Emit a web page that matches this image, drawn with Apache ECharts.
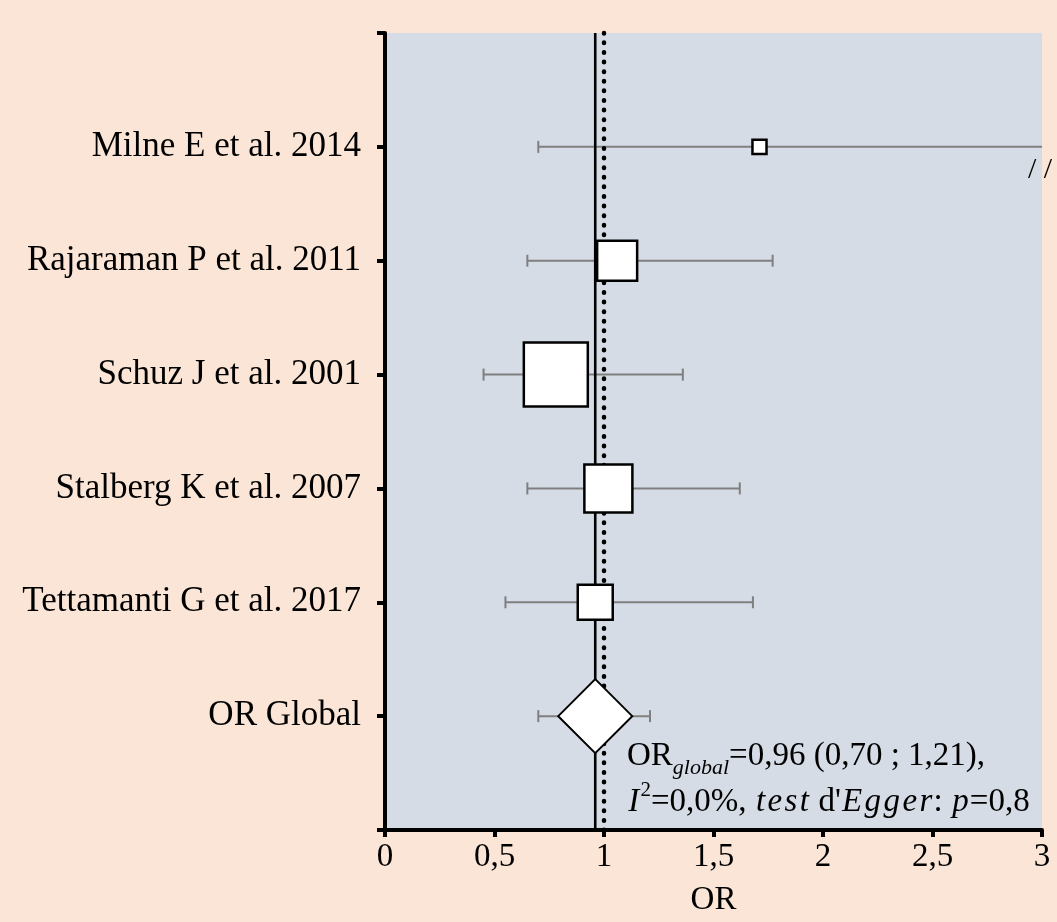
<!DOCTYPE html>
<html>
<head>
<meta charset="utf-8">
<script src="https://cdn.jsdelivr.net/npm/echarts@6/dist/echarts.min.js"></script>
<style>
  html, body { margin: 0; padding: 0; background: #FBE5D6; }
  #chart { width: 1057px; height: 922px; }
</style>
</head>
<body>
<div id="chart"></div>
<script>
// Individual studies, top to bottom
const studies = ['Milne E et al. 2014', 'Rajaraman P et al. 2011', 'Schuz J et al. 2001', 'Stalberg K et al. 2007', 'Tettamanti G et al. 2017'];
const studyOR = [1.71, 1.06, 0.78, 1.02, 0.96];
const studyLower = [0.70, 0.65, 0.45, 0.65, 0.55];
const studyUpper = [4.20, 1.77, 1.36, 1.62, 1.68];
const studyWeight = [2.1, 17.0, 43.5, 24.5, 13.0]; // % weight in the pooled estimate

// Pooled estimate
const pooledLabel = 'OR Global';
const pooledOR = 0.96;
const pooledLower = 0.70;
const pooledUpper = 1.21;
const heterogeneityI2 = 0.0;
const eggerP = 0.8;

// Axis
const xMin = 0, xMax = 3, xStep = 0.5;
const nullValue = 1;

const FONT = "'Liberation Serif', 'Times New Roman', serif";
const comma = (v, d) => v.toFixed(d).replace('.', ',');
// math-style italic: one rich token per letter so the letters get a little extra spacing
const mathItalic = s => s.split('').map(ch => '{m|' + ch + '}').join('');

// Row positions: pooled row at 1, studies above it, empty slots at 0 and top
const nRows = studies.length + 2;
const rowLabels = ['', pooledLabel].concat(studies.slice().reverse()).concat(['']);
const studyRow = studies.map((s, i) => studies.length + 1 - i);
const pooledRow = 1;

const ciData = studies.map((s, i) => [studyLower[i], studyUpper[i], studyRow[i]])
  .concat([[pooledLower, pooledUpper, pooledRow]]);
const squareData = studies.map((s, i) => [studyOR[i], studyRow[i], studyWeight[i]]);
const refLines = [pooledOR, nullValue];

const chart = echarts.init(document.getElementById('chart'));

const option = {
  backgroundColor: '#FBE5D6',
  animation: false,
  grid: {
    left: 385, right: 15, top: 33, bottom: 90,
    show: true, backgroundColor: '#D6DCE5', borderWidth: 0
  },
  xAxis: {
    type: 'value', min: xMin, max: xMax, interval: xStep,
    name: 'OR', nameLocation: 'middle', nameGap: 54,
    nameTextStyle: { fontFamily: FONT, fontSize: 33, color: '#000' },
    axisLine: { show: true, lineStyle: { color: '#000', width: 4 } },
    axisTick: { show: true, inside: false, length: 7, lineStyle: { color: '#000', width: 4 } },
    axisLabel: {
      margin: 11, fontFamily: FONT, fontSize: 33, color: '#000',
      formatter: v => String(v).replace('.', ',')
    },
    splitLine: { show: false }
  },
  yAxis: {
    type: 'value', min: 0, max: nRows, interval: 1,
    axisLine: { show: true, onZero: false, lineStyle: { color: '#000', width: 4 } },
    axisTick: { show: true, inside: false, length: 8, lineStyle: { color: '#000', width: 4 } },
    axisLabel: {
      margin: 24, fontFamily: FONT, fontSize: 35, color: '#000',
      formatter: v => rowLabels[v] || ''
    },
    splitLine: { show: false }
  },
  series: [
    {
      // confidence intervals with end caps; a break mark where the interval runs off the axis
      type: 'custom',
      z: 1,
      data: ciData,
      renderItem: (params, api) => {
        const lo = api.value(0), hi = api.value(1), y = api.value(2);
        const clipped = hi > xMax;
        const p0 = api.coord([lo, y]);
        const p1 = api.coord([Math.min(hi, xMax), y]);
        const stroke = { stroke: '#7F7F7F', lineWidth: 2 };
        const kids = [
          { type: 'line', shape: { x1: p0[0], y1: p0[1], x2: p1[0], y2: p1[1] }, style: stroke },
          { type: 'line', shape: { x1: p0[0], y1: p0[1] - 6, x2: p0[0], y2: p0[1] + 6 }, style: stroke }
        ];
        if (clipped) {
          kids.push({
            type: 'text', x: p1[0] - 2, y: p1[1] + 8,
            style: { text: '/ /', fontFamily: FONT, fontSize: 30, fill: '#000', align: 'center', verticalAlign: 'top' }
          });
        } else {
          kids.push({ type: 'line', shape: { x1: p1[0], y1: p1[1] - 6, x2: p1[0], y2: p1[1] + 6 }, style: stroke });
        }
        return { type: 'group', children: kids };
      }
    },
    {
      // pooled OR (solid) and the line of no effect (dotted)
      type: 'custom',
      z: 2,
      data: refLines.map(v => [v]),
      renderItem: (params, api) => {
        const cs = params.coordSys;
        const x = api.coord([api.value(0), 0])[0];
        const dotted = params.dataIndex === 1;
        return {
          type: 'line',
          shape: { x1: x, y1: cs.y, x2: x, y2: cs.y + cs.height },
          style: dotted
            ? { stroke: '#000', lineWidth: 4.5, lineDash: [0.5, 9.1], lineCap: 'round' }
            : { stroke: '#000', lineWidth: 2.6 }
        };
      }
    },
    {
      // study point estimates, square area proportional to weight
      type: 'scatter',
      z: 3,
      symbol: 'rect',
      symbolSize: v => 9.7 * Math.sqrt(v[2]),
      itemStyle: { color: '#FFFFFF', borderColor: '#000', borderWidth: 2.5, opacity: 1 },
      data: squareData
    },
    {
      // pooled estimate
      type: 'scatter',
      z: 3,
      symbol: 'diamond',
      symbolSize: 74,
      itemStyle: { color: '#FFFFFF', borderColor: '#000', borderWidth: 2, opacity: 1 },
      data: [[pooledOR, pooledRow]]
    }
  ],
  graphic: [
    {
      type: 'text',
      left: 627, top: 740,
      z: 10,
      style: {
        text:
          '{n|OR}{sub|global}{n|=' + comma(pooledOR, 2) + ' (' + comma(pooledLower, 2) + ' ; ' + comma(pooledUpper, 2) + '),}\n' +
          mathItalic('I') + '{sup|2}{n|=' + comma(heterogeneityI2, 1) + '%, }' + mathItalic('test') +
          '{n| d\'}' + mathItalic('Egger') + '{n|: }' + mathItalic('p') + '{n|=' + comma(eggerP, 1) + '}',
        rich: {
          n: { fontFamily: FONT, fontSize: 33, fill: '#000', lineHeight: 46 },
          m: { fontFamily: FONT, fontSize: 33, fontStyle: 'italic', fill: '#000', lineHeight: 46, padding: [0, 1.2, 0, 1.2] },
          sub: { fontFamily: FONT, fontSize: 22, fontStyle: 'italic', fill: '#000', lineHeight: 25, verticalAlign: 'bottom' },
          sup: { fontFamily: FONT, fontSize: 21, fill: '#000', lineHeight: 36, verticalAlign: 'top' }
        }
      }
    }
  ]
};

chart.setOption(option);
</script>
</body>
</html>
